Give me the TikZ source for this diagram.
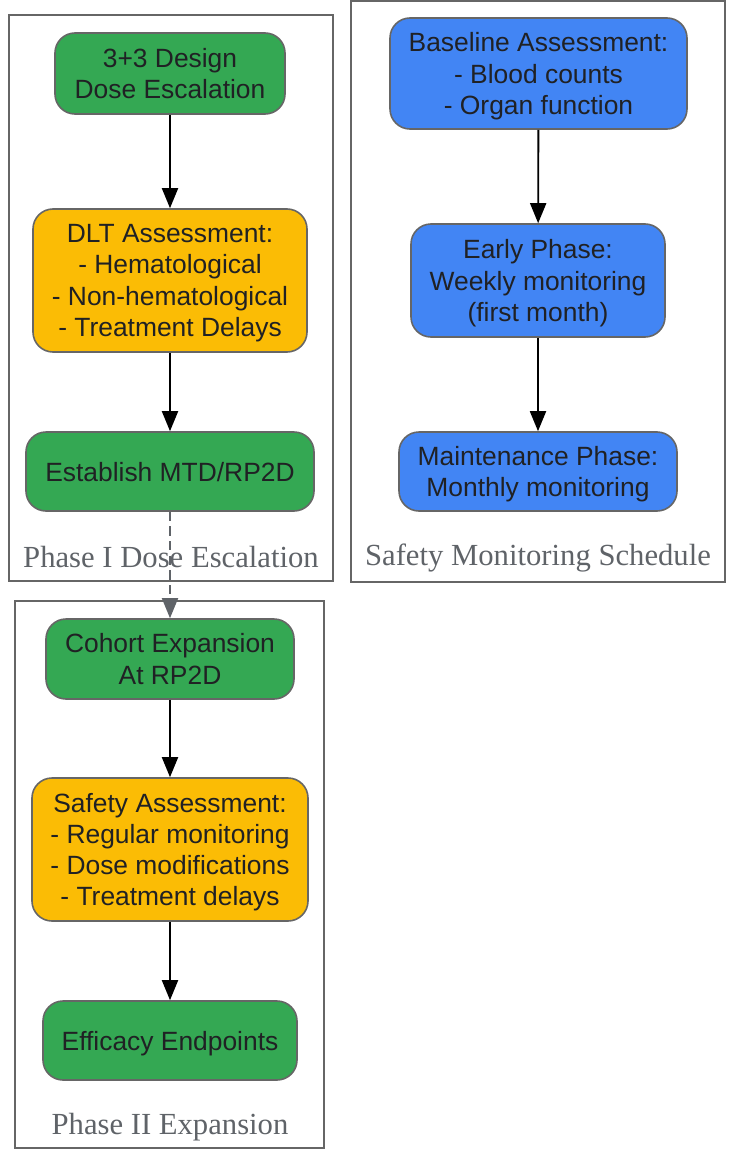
\documentclass[tikz,border=0pt]{standalone}
\usepackage{fontspec}
\setmainfont{Liberation Serif}
\newfontfamily\boxfont{Liberation Sans}
\usetikzlibrary{arrows.meta}

\definecolor{stepgreen}{HTML}{34A853}
\definecolor{stepyellow}{HTML}{FBBC05}
\definecolor{stepblue}{HTML}{4285F4}
\definecolor{edgegray}{HTML}{666666}
\definecolor{labelgray}{HTML}{5F6368}
\definecolor{inktext}{HTML}{202124}

\tikzset{
  stepbox/.style={draw=edgegray, line width=1.2pt, rounded corners=15pt,
    align=center, inner sep=0pt, text=inktext, text depth=0pt,
    font=\boxfont\fontsize{19.8}{23.4}\selectfont},
  frame/.style={draw=edgegray, line width=1.1pt},
  framelabel/.style={text=labelgray, font=\fontsize{23}{27}\selectfont},
  flow/.style={line width=1.4pt, -{Triangle[length=15pt,width=12pt]}},
  handover/.style={draw=labelgray, line width=1.4pt, dash pattern=on 7pt off 4pt,
    -{Triangle[length=15pt,width=12pt]}}
}

\begin{document}
\begin{tikzpicture}[x=0.75pt, y=-0.75pt]
      \useasboundingbox (0,0) rectangle (731,1149);

      % phase I
      \draw[frame] (9,15) rectangle (333,581);
      \node[framelabel] (lblphaseone) at (171,557) {Phase I Dose Escalation};

      \node[stepbox, fill=stepgreen, minimum width=230*0.75pt, minimum height=81*0.75pt]
        (design) at (170,73.5) {3+3 Design\\Dose Escalation};
      \node[stepbox, fill=stepyellow, minimum width=274*0.75pt, minimum height=143*0.75pt]
        (dlt) at (170,280.5) {DLT Assessment:\\- Hematological\\- Non-hematological\\- Treatment Delays};
      \node[stepbox, fill=stepgreen, minimum width=288*0.75pt, minimum height=79*0.75pt]
        (mtd) at (170,471.5) {Establish MTD/RP2D};

      % phase II
      \draw[frame] (15,601) rectangle (324,1148);
      \node[framelabel] (lblphasetwo) at (170,1127) {Phase II Expansion};

      \node[stepbox, fill=stepgreen, minimum width=248*0.75pt, minimum height=80*0.75pt]
        (cohort) at (170,659) {Cohort Expansion\\At RP2D};
      \node[stepbox, fill=stepyellow, minimum width=276*0.75pt, minimum height=143*0.75pt]
        (safety) at (170,849.5) {Safety Assessment:\\- Regular monitoring\\- Dose modifications\\- Treatment delays};
      \node[stepbox, fill=stepgreen, minimum width=254*0.75pt, minimum height=79*0.75pt]
        (efficacy) at (170,1040.5) {Efficacy Endpoints};

      % monitoring
      \draw[frame] (351,1) rectangle (725,582);
      \node[framelabel] (lblmonitor) at (538,558) {Safety Monitoring Schedule};

      \node[stepbox, fill=stepblue, minimum width=297*0.75pt, minimum height=111*0.75pt]
        (baseline) at (538.5,73.5) {Baseline Assessment:\\- Blood counts\\- Organ function};
      \node[stepbox, fill=stepblue, minimum width=254*0.75pt, minimum height=113*0.75pt]
        (early) at (538,280.5) {Early Phase:\\Weekly monitoring\\(first month)};
      \node[stepbox, fill=stepblue, minimum width=278*0.75pt, minimum height=79*0.75pt]
        (maint) at (538,471.5) {Maintenance Phase:\\Monthly monitoring};

      \draw[flow] (design) -- (dlt);
      \draw[flow] (dlt) -- (mtd);
      \draw[handover] (mtd) -- (cohort);
      \draw[flow] (cohort) -- (safety);
      \draw[flow] (safety) -- (efficacy);
      \draw[flow] (baseline) -- (early);
      \draw[flow] (early) -- (maint);
    \end{tikzpicture}
\end{document}
